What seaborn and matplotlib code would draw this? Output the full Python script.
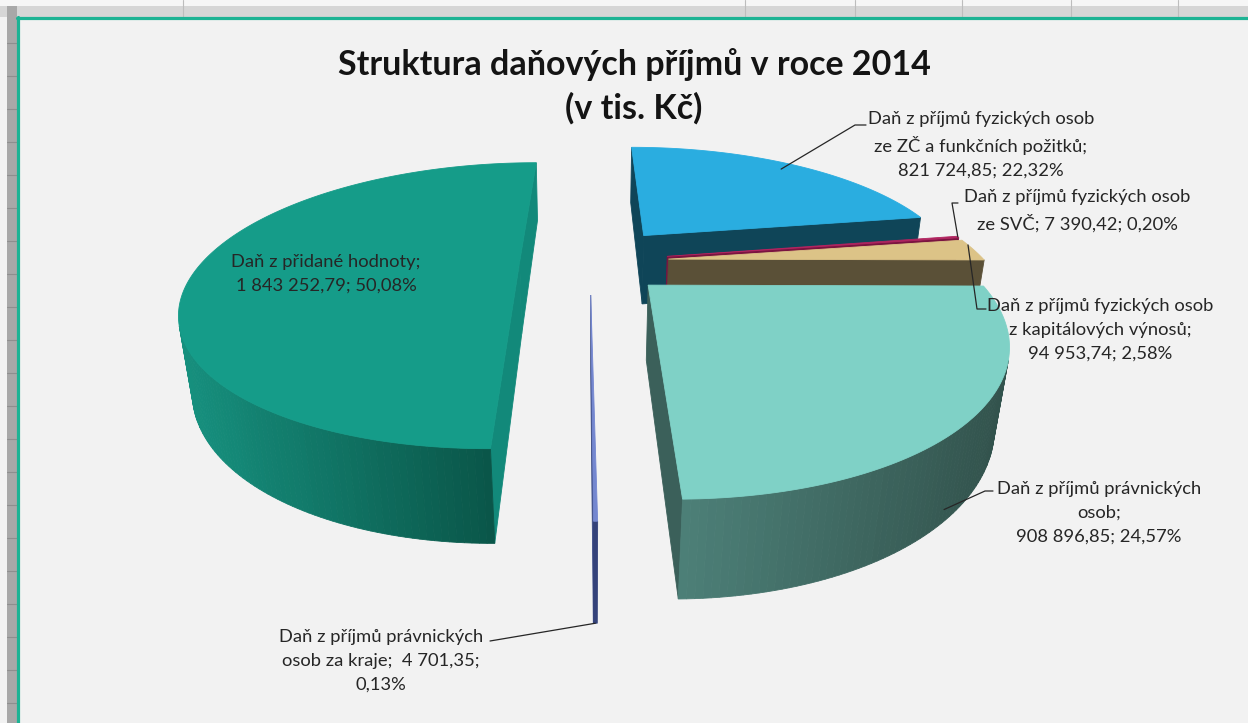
import numpy as np
import matplotlib
matplotlib.use("Agg")
import matplotlib.pyplot as plt
from matplotlib.patches import Polygon, Rectangle
import seaborn as sns

# values (v tis. Kč), slices clockwise from 12 o'clock
categories = [
    "Daň z příjmů fyzických osob\nze ZČ a funkčních požitků;",
    "Daň z příjmů fyzických osob\nze SVČ;",
    "Daň z příjmů fyzických osob\nz kapitálových výnosů;",
    "Daň z příjmů právnických\nosob;",
    "Daň z příjmů právnických\nosob za kraje;",
    "Daň z přidané hodnoty;",
]
values = np.array([821724.85, 7390.42, 94953.74, 908896.85, 4701.35, 1843252.79])
percents = ["22,32%", "0,20%", "2,58%", "24,57%", "0,13%", "50,08%"]
label_fmt = ["{c}\n{v}; {p}", "{c} {v}; {p}", "{c}\n{v}; {p}",
             "{c}\n{v}; {p}", "{c}  {v};\n{p}", "{c}\n{v}; {p}"]

explode = [0.28, 0.25, 0.25, 0.245, 0.24, 0.222]

top_colors = ["#2AADE0", "#B0245F", "#DCC387", "#7FD1C6", "#7487D0", "#159C89"]
wall_light = ["#15536C", "#8A1A4A", "#62563C", "#4C7F77", "#34427A", "#16907E"]
wall_dark = ["#0E3F52", "#6E1238", "#55492F", "#32524C", "#2A356A", "#0A5649"]
cut_colors = ["#0F4558", "#7A1440", "#5A5037", "#3B605A", "#3A4A85", "#12897A"]

# label layout (pixel coords) and leader anchors (angle fraction, radius, depth fraction)
label_pos = [(981, 145), (1077, 211), (1100, 330), (1099, 513), (381, 661), (326, 274)]
leader_text = [[(866, 125), (855, 125)], [(958, 203), (952, 203)],
               [(986, 309), (977, 309)], [(993, 491), (985, 491)],
               [(490, 641)], None]
leader_anchor = [(0.5, 0.92, 0), (0.5, 1.0, 0), (0.25, 1.0, 0),
                 (0.55, 1.0, 0.85), (0.5, 1.0, 1.0), None]

# simple perspective camera for the 3-D pie
PHI = np.radians(22.7)
DIST = 2.99
FOC = 1002
FX = 0.945
CX, CY = 590, 261.5
HEIGHT = 0.24
cam = np.array([0, -DIST * np.cos(PHI), DIST * np.sin(PHI)])


def proj(pts):
    pts = np.atleast_2d(pts)
    x, y, z = pts[:, 0], pts[:, 1], pts[:, 2]
    depth = DIST + y * np.cos(PHI) - z * np.sin(PHI)
    sx = CX + FX * FOC * x / depth
    sy = CY - FOC * (y * np.sin(PHI) + z * np.cos(PHI)) / depth
    return np.column_stack([sx, sy]), depth


frac = values / values.sum()
edges = np.radians(np.concatenate([[0], np.cumsum(frac)]) * 360)


def offset(i):
    tb = (edges[i] + edges[i + 1]) / 2
    return explode[i] * np.array([np.sin(tb), np.cos(tb), 0.0])


def anchor_point(i, a, r, zf):
    t = edges[i] + a * (edges[i + 1] - edges[i])
    p = offset(i) + np.array([r * np.sin(t), r * np.cos(t), -zf * HEIGHT])
    return proj(p)[0][0]


sns.set_style("white")
plt.rcParams["font.family"] = ["Lato", "DejaVu Sans"]

fig = plt.figure(figsize=(12.48, 7.23), dpi=100)
fig.patch.set_facecolor("#F2F2F2")
ax = fig.add_axes([0, 0, 1, 1])
ax.set_xlim(0, 1248)
ax.set_ylim(723, 0)
ax.axis("off")

# spreadsheet frame around the chart object
ax.add_patch(Rectangle((0, 0), 1248, 17, fc="#F6F6F6", ec="none", zorder=0))
ax.add_patch(Rectangle((0, 6), 1248, 11, fc="#D6D6D6", ec="none", zorder=0))
for xc in [183, 745, 855, 962, 1071, 1178]:
    ax.plot([xc, xc], [0, 17], color="#BDBDBD", lw=0.8, zorder=0)
ax.add_patch(Rectangle((7, 6), 9.5, 717, fc="#A8A8A8", ec="none", zorder=0))
for yr in range(43, 723, 33):
    ax.plot([7, 16.5], [yr, yr], color="#8E8E8E", lw=0.8, zorder=0)
ax.plot([17.5, 17.5], [16.5, 723], color="#1DB394", lw=2.3, zorder=1)
ax.plot([16.5, 1248], [17.5, 17.5], color="#1DB394", lw=2.3, zorder=1)

# build slices, draw far ones first
order = sorted(range(len(values)),
               key=lambda i: -proj(offset(i) + 0.5 * np.array(
                   [np.sin((edges[i] + edges[i + 1]) / 2),
                    np.cos((edges[i] + edges[i + 1]) / 2), 0]))[1][0])

for i in order:
    t0, t1 = edges[i], edges[i + 1]
    off = offset(i)
    n = max(2, int(np.degrees(t1 - t0) / 1.0) + 2)
    th = np.linspace(t0, t1, n)
    rim = np.column_stack([np.sin(th), np.cos(th), np.zeros(n)]) + off
    low = rim - np.array([0, 0, HEIGHT])
    apex = off
    apex_low = off - np.array([0, 0, HEIGHT])

    faces = []
    radial = [
        (np.array([apex, rim[0], low[0], apex_low]), np.array([-np.cos(t0), np.sin(t0), 0])),
        (np.array([apex, rim[-1], low[-1], apex_low]), np.array([np.cos(t1), -np.sin(t1), 0])),
    ]
    for quad, nrm in radial:
        c = quad.mean(axis=0)
        if np.dot(nrm, cam - c) > 0:
            xy, d = proj(quad)
            faces.append((d.mean(), xy, cut_colors[i]))

    walls = []
    for k in range(n - 1):
        quad = np.array([rim[k], rim[k + 1], low[k + 1], low[k]])
        tm = (th[k] + th[k + 1]) / 2
        nrm = np.array([np.sin(tm), np.cos(tm), 0])
        if np.dot(nrm, cam - quad.mean(axis=0)) > 0:
            xy, d = proj(quad)
            walls.append((d.mean(), xy))
    if walls:
        xs = np.array([w[1][:, 0].mean() for w in walls])
        span = max(xs.max() - xs.min(), 1)
        pal = sns.blend_palette([wall_light[i], wall_dark[i]], 64)
        for (d, xy), xm in zip(walls, xs):
            faces.append((d, xy, pal[int((xm - xs.min()) / span * 63)]))

    for d, xy, col in sorted(faces, key=lambda f: -f[0]):
        ax.add_patch(Polygon(xy, closed=True, fc=col, ec=col, lw=0.6, zorder=2))

    top_xy, _ = proj(np.vstack([apex, rim]))
    ax.add_patch(Polygon(top_xy, closed=True, fc=top_colors[i], ec=top_colors[i],
                         lw=0.6, zorder=3))

# data labels
for i in range(len(values)):
    vtxt = f"{values[i]:,.2f}".replace(",", " ").replace(".", ",")
    txt = label_fmt[i].format(c=categories[i], v=vtxt, p=percents[i])
    ax.text(label_pos[i][0], label_pos[i][1], txt, ha="center", va="center",
            fontsize=13.2, color="#262626", linespacing=1.58, zorder=6)
    if leader_text[i] is not None:
        a, r, zf = leader_anchor[i]
        pts = np.array(leader_text[i] + [tuple(anchor_point(i, a, r, zf))])
        ax.plot(pts[:, 0], pts[:, 1], color="#262626", lw=0.9, zorder=5)

ax.text(634, 65, "Struktura daňových příjmů v roce 2014", ha="center", va="center",
        fontsize=24.5, fontweight="bold", color="#141414")
ax.text(634, 108, "(v tis. Kč)", ha="center", va="center",
        fontsize=24.5, fontweight="bold", color="#141414")

fig.savefig("out.png", dpi=100, facecolor=fig.get_facecolor())
